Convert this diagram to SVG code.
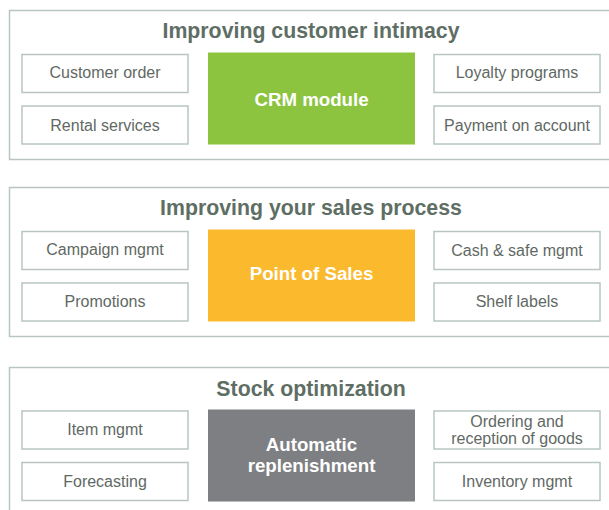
<svg xmlns="http://www.w3.org/2000/svg" width="609" height="510" viewBox="0 0 609 510">
<style>
.panel{fill:#ffffff;stroke:#b9c6c0;stroke-width:1.5}
.item{fill:#ffffff;stroke:#b9c6c0;stroke-width:1.5}
.title{font-family:"Liberation Sans",Arial,sans-serif;font-weight:bold;font-size:21.3px;fill:#5e6e64;text-anchor:middle}
.lbl{font-family:"Liberation Sans",Arial,sans-serif;font-size:16px;fill:#5f6964;text-anchor:middle}
.core{font-family:"Liberation Sans",Arial,sans-serif;font-weight:bold;font-size:18.7px;fill:#ffffff;text-anchor:middle}
</style>
<rect width="609" height="510" fill="#ffffff"/>
<g id="panel1">
<rect class="panel" x="9.5" y="10.5" width="610" height="149"/>
<text class="title" x="311" y="38">Improving customer intimacy</text>
<g id="customer-order"><rect class="item" x="22" y="54.5" width="166" height="38"/><text class="lbl" x="105" y="78">Customer order</text></g>
<g id="rental-services"><rect class="item" x="22" y="106" width="166" height="38"/><text class="lbl" x="105" y="131">Rental services</text></g>
<g id="crm-module"><rect x="208" y="52.5" width="207" height="92" fill="#8cc43f"/><text class="core" x="311.5" y="106">CRM module</text></g>
<g id="loyalty-programs"><rect class="item" x="434" y="54.5" width="166" height="38"/><text class="lbl" x="517" y="78">Loyalty programs</text></g>
<g id="payment-on-account"><rect class="item" x="434" y="106" width="166" height="38"/><text class="lbl" x="517" y="131">Payment on account</text></g>
</g>
<g id="panel2">
<rect class="panel" x="9.5" y="187.5" width="610" height="149"/>
<text class="title" x="311" y="215">Improving your sales process</text>
<g id="campaign-mgmt"><rect class="item" x="22" y="231.5" width="166" height="38"/><text class="lbl" x="105" y="255">Campaign mgmt</text></g>
<g id="promotions"><rect class="item" x="22" y="283" width="166" height="38"/><text class="lbl" x="105" y="307">Promotions</text></g>
<g id="point-of-sales"><rect x="208" y="229.5" width="207" height="92" fill="#fbb92e"/><text class="core" x="311.5" y="280">Point of Sales</text></g>
<g id="cash-safe-mgmt"><rect class="item" x="434" y="231.5" width="166" height="38"/><text class="lbl" x="517" y="256">Cash &amp; safe mgmt</text></g>
<g id="shelf-labels"><rect class="item" x="434" y="283" width="166" height="38"/><text class="lbl" x="517" y="307">Shelf labels</text></g>
</g>
<g id="panel3">
<rect class="panel" x="9.5" y="367.5" width="610" height="160"/>
<text class="title" x="311" y="396">Stock optimization</text>
<g id="item-mgmt"><rect class="item" x="22" y="411" width="166" height="38"/><text class="lbl" x="105" y="435">Item mgmt</text></g>
<g id="forecasting"><rect class="item" x="22" y="462.5" width="166" height="38"/><text class="lbl" x="105" y="487">Forecasting</text></g>
<g id="automatic-replenishment"><rect x="208" y="409.5" width="207" height="92" fill="#7e7f83"/><text class="core" x="311.5" y="451">Automatic</text><text class="core" x="311.5" y="472">replenishment</text></g>
<g id="ordering-reception"><rect class="item" x="434" y="411" width="166" height="38"/><text class="lbl" x="517" y="427">Ordering and</text><text class="lbl" x="517" y="444">reception of goods</text></g>
<g id="inventory-mgmt"><rect class="item" x="434" y="462.5" width="166" height="38"/><text class="lbl" x="517" y="487">Inventory mgmt</text></g>
</g>
<g id="connectors"/>
</svg>
